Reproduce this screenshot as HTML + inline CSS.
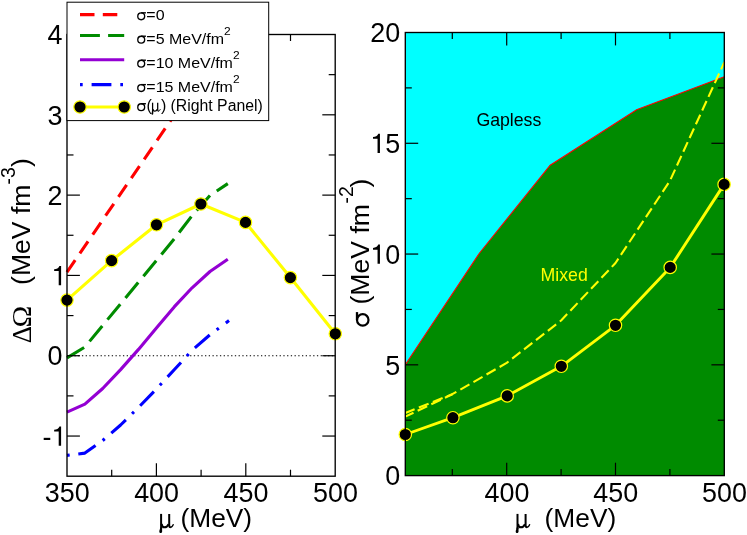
<!DOCTYPE html>
<html><head><meta charset="utf-8"><title>chart</title>
<style>html,body{margin:0;padding:0;background:#fff;}svg{display:block;will-change:transform;}text{fill:#000;}</style>
</head><body>
<svg width="747" height="535" viewBox="0 0 747 535">
<rect x="0" y="0" width="747" height="535" fill="#fff"/>
<g id="left">
<line x1="67.0" y1="355.74" x2="335.2" y2="355.74" stroke="#000" stroke-width="1.2" stroke-dasharray="1.3 2.43"/>
<polyline points="67.00,272.20 227.80,36.90" fill="none" stroke="#ff0000" stroke-width="3.1" stroke-dasharray="14.5 8.3" stroke-linejoin="round" />
<polyline points="67.00,357.80 84.90,347.00 102.70,325.40 120.60,303.80 138.50,282.10 156.40,260.50 174.20,238.90 192.10,215.60 210.00,195.40 227.80,183.60" fill="none" stroke="#008b00" stroke-width="3.1" stroke-dasharray="20 8.2" stroke-linejoin="round" />
<polyline points="67.00,412.10 84.90,404.20 102.70,388.50 120.60,369.60 138.50,349.40 156.40,328.00 174.20,306.90 192.10,287.80 210.00,271.50 227.80,259.30" fill="none" stroke="#9400d3" stroke-width="3.1" stroke-linejoin="round" />
<polyline points="67.00,455.40 84.90,453.10 102.70,440.50 120.60,425.00 138.50,407.40 156.40,389.00 174.20,369.80 192.10,350.30 210.00,334.70 227.80,321.50 229.00,320.60" fill="none" stroke="#0000ff" stroke-width="3.1" stroke-dasharray="2.7 8.7 19.7 8.7" stroke-linejoin="round" />
<polyline points="67.00,300.10 111.60,260.60 156.50,224.80 200.90,204.00 245.50,222.40 290.40,277.60 335.30,333.80" fill="none" stroke="#ffff00" stroke-width="3.1" stroke-linejoin="round" />
<circle cx="67" cy="300.1" r="6.2" fill="#000" stroke="#ffff00" stroke-width="1.2"/>
<circle cx="111.6" cy="260.6" r="6.2" fill="#000" stroke="#ffff00" stroke-width="1.2"/>
<circle cx="156.5" cy="224.8" r="6.2" fill="#000" stroke="#ffff00" stroke-width="1.2"/>
<circle cx="200.9" cy="204.0" r="6.2" fill="#000" stroke="#ffff00" stroke-width="1.2"/>
<circle cx="245.5" cy="222.4" r="6.2" fill="#000" stroke="#ffff00" stroke-width="1.2"/>
<circle cx="290.4" cy="277.6" r="6.2" fill="#000" stroke="#ffff00" stroke-width="1.2"/>
<circle cx="335.3" cy="333.8" r="6.2" fill="#000" stroke="#ffff00" stroke-width="1.2"/>
<rect x="67.0" y="34.5" width="268.20" height="441.70" fill="none" stroke="#000" stroke-width="1.35"/>
<line x1="111.70" y1="476.20" x2="111.70" y2="469.70" stroke="#000" stroke-width="1.2"/>
<line x1="111.70" y1="34.50" x2="111.70" y2="41.00" stroke="#000" stroke-width="1.2"/>
<line x1="156.40" y1="476.20" x2="156.40" y2="463.30" stroke="#000" stroke-width="1.2"/>
<line x1="156.40" y1="34.50" x2="156.40" y2="47.40" stroke="#000" stroke-width="1.2"/>
<line x1="201.10" y1="476.20" x2="201.10" y2="469.70" stroke="#000" stroke-width="1.2"/>
<line x1="201.10" y1="34.50" x2="201.10" y2="41.00" stroke="#000" stroke-width="1.2"/>
<line x1="245.80" y1="476.20" x2="245.80" y2="463.30" stroke="#000" stroke-width="1.2"/>
<line x1="245.80" y1="34.50" x2="245.80" y2="47.40" stroke="#000" stroke-width="1.2"/>
<line x1="290.50" y1="476.20" x2="290.50" y2="469.70" stroke="#000" stroke-width="1.2"/>
<line x1="290.50" y1="34.50" x2="290.50" y2="41.00" stroke="#000" stroke-width="1.2"/>
<line x1="67.00" y1="436.05" x2="79.90" y2="436.05" stroke="#000" stroke-width="1.2"/>
<line x1="335.20" y1="436.05" x2="322.30" y2="436.05" stroke="#000" stroke-width="1.2"/>
<line x1="67.00" y1="395.89" x2="73.50" y2="395.89" stroke="#000" stroke-width="1.2"/>
<line x1="335.20" y1="395.89" x2="328.70" y2="395.89" stroke="#000" stroke-width="1.2"/>
<line x1="67.00" y1="355.74" x2="79.90" y2="355.74" stroke="#000" stroke-width="1.2"/>
<line x1="335.20" y1="355.74" x2="322.30" y2="355.74" stroke="#000" stroke-width="1.2"/>
<line x1="67.00" y1="315.58" x2="73.50" y2="315.58" stroke="#000" stroke-width="1.2"/>
<line x1="335.20" y1="315.58" x2="328.70" y2="315.58" stroke="#000" stroke-width="1.2"/>
<line x1="67.00" y1="275.43" x2="79.90" y2="275.43" stroke="#000" stroke-width="1.2"/>
<line x1="335.20" y1="275.43" x2="322.30" y2="275.43" stroke="#000" stroke-width="1.2"/>
<line x1="67.00" y1="235.27" x2="73.50" y2="235.27" stroke="#000" stroke-width="1.2"/>
<line x1="335.20" y1="235.27" x2="328.70" y2="235.27" stroke="#000" stroke-width="1.2"/>
<line x1="67.00" y1="195.12" x2="79.90" y2="195.12" stroke="#000" stroke-width="1.2"/>
<line x1="335.20" y1="195.12" x2="322.30" y2="195.12" stroke="#000" stroke-width="1.2"/>
<line x1="67.00" y1="154.96" x2="73.50" y2="154.96" stroke="#000" stroke-width="1.2"/>
<line x1="335.20" y1="154.96" x2="328.70" y2="154.96" stroke="#000" stroke-width="1.2"/>
<line x1="67.00" y1="114.81" x2="79.90" y2="114.81" stroke="#000" stroke-width="1.2"/>
<line x1="335.20" y1="114.81" x2="322.30" y2="114.81" stroke="#000" stroke-width="1.2"/>
<line x1="67.00" y1="74.65" x2="73.50" y2="74.65" stroke="#000" stroke-width="1.2"/>
<line x1="335.20" y1="74.65" x2="328.70" y2="74.65" stroke="#000" stroke-width="1.2"/>
<text transform="translate(44.77,502.10) scale(1,1.05)" style='font-family:"Liberation Sans",sans-serif;font-size:26.9px'>3</text>
<text transform="translate(59.72,502.10) scale(1,1.05)" style='font-family:"Liberation Sans",sans-serif;font-size:26.9px'>5</text>
<text transform="translate(74.68,502.10) scale(1,1.05)" style='font-family:"Liberation Sans",sans-serif;font-size:26.9px'>0</text>
<text transform="translate(134.17,502.10) scale(1,1.05)" style='font-family:"Liberation Sans",sans-serif;font-size:26.9px'>4</text>
<text transform="translate(149.12,502.10) scale(1,1.05)" style='font-family:"Liberation Sans",sans-serif;font-size:26.9px'>0</text>
<text transform="translate(164.08,502.10) scale(1,1.05)" style='font-family:"Liberation Sans",sans-serif;font-size:26.9px'>0</text>
<text transform="translate(223.57,502.10) scale(1,1.05)" style='font-family:"Liberation Sans",sans-serif;font-size:26.9px'>4</text>
<text transform="translate(238.52,502.10) scale(1,1.05)" style='font-family:"Liberation Sans",sans-serif;font-size:26.9px'>5</text>
<text transform="translate(253.48,502.10) scale(1,1.05)" style='font-family:"Liberation Sans",sans-serif;font-size:26.9px'>0</text>
<text transform="translate(312.97,502.10) scale(1,1.05)" style='font-family:"Liberation Sans",sans-serif;font-size:26.9px'>5</text>
<text transform="translate(327.92,502.10) scale(1,1.05)" style='font-family:"Liberation Sans",sans-serif;font-size:26.9px'>0</text>
<text transform="translate(342.88,502.10) scale(1,1.05)" style='font-family:"Liberation Sans",sans-serif;font-size:26.9px'>0</text>
<text transform="translate(42.49,445.75) scale(1,1.05)" style='font-family:"Liberation Sans",sans-serif;font-size:26.9px'>-</text>
<path d="M61.10,445.75 L58.71,445.75 L58.71,431.62 L54.16,431.62 L54.16,429.87 C56.69,429.65 58.49,428.74 59.43,426.54 L61.10,426.54 Z" fill="#000"/>
<text transform="translate(47.54,365.44) scale(1,1.05)" style='font-family:"Liberation Sans",sans-serif;font-size:26.9px'>0</text>
<path d="M61.10,285.13 L58.71,285.13 L58.71,271.00 L54.16,271.00 L54.16,269.25 C56.69,269.03 58.49,268.12 59.43,265.92 L61.10,265.92 Z" fill="#000"/>
<text transform="translate(47.54,204.82) scale(1,1.05)" style='font-family:"Liberation Sans",sans-serif;font-size:26.9px'>2</text>
<text transform="translate(47.54,124.51) scale(1,1.05)" style='font-family:"Liberation Sans",sans-serif;font-size:26.9px'>3</text>
<text transform="translate(47.54,44.20) scale(1,1.05)" style='font-family:"Liberation Sans",sans-serif;font-size:26.9px'>4</text>
<g transform="translate(150,505) scale(1.0)" fill="none" stroke="#000" stroke-linecap="butt">
<path d="M11.1,8.9 L11.1,24.2" stroke-width="2.0"/>
<path d="M10.1,22.5 C10.1,24.3 9.3,25.3 9.3,26.4 C9.3,27.4 10.0,27.95 10.75,27.95 C11.6,27.95 12.15,27.3 12.15,26.4 C12.15,25.2 12.1,24.2 12.1,22.5 Z" fill="#000" stroke="none"/>
<path d="M11.6,18.8 C11.9,21.6 13.3,22.3 14.6,22.3 C16.3,22.3 17.6,21.2 18.6,19.2" stroke-width="2.1"/>
<path d="M19.2,8.9 L19.2,20.3 C19.2,21.7 19.8,22.2 20.6,22.2" stroke-width="2.0"/>
<path d="M20.3,22.25 C21.7,22.3 22.7,21.2 23.2,19.6" stroke-width="1.4" stroke-linecap="round"/>
</g>
<text x="180.5" y="527.2" style='font-family:"Liberation Sans",sans-serif;font-size:26.3px'>(MeV)</text>
<text transform="translate(30.5,343.2) rotate(-90) scale(1,1)" style='font-family:"Liberation Serif",serif;font-size:27px'>Δ</text>
<text transform="translate(30.5,327.6) rotate(-90) scale(1.09,1)" style='font-family:"Liberation Serif",serif;font-size:27px'>Ω</text>
<text transform="translate(30.4,284.95) rotate(-90) scale(1,1)" style='font-family:"Liberation Sans",sans-serif;font-size:26.6px'>(MeV fm</text>
<text transform="translate(14.7,184.5) rotate(-90) scale(1,1.05)" style='font-family:"Liberation Sans",sans-serif;font-size:19.5px'>-3</text>
<text transform="translate(30.4,167.0) rotate(-90) scale(1,1)" style='font-family:"Liberation Sans",sans-serif;font-size:26.6px'>)</text>
<rect x="67" y="2.2" width="201.7" height="118.4" fill="#fff" stroke="#000" stroke-width="1.0"/>
<line x1="80" y1="14.6" x2="117.5" y2="14.6" stroke="#ff0000" stroke-width="3.1" stroke-dasharray="14.5 8.3"/>
<line x1="80" y1="35.5" x2="124.2" y2="35.5" stroke="#008b00" stroke-width="3.1" stroke-dasharray="19.9 8.2"/>
<line x1="80" y1="59.7" x2="124.2" y2="59.7" stroke="#9400d3" stroke-width="3.1"/>
<line x1="80" y1="84.6" x2="123" y2="84.6" stroke="#0000ff" stroke-width="3.1" stroke-dasharray="2.7 8.9 19.8 8.9"/>
<line x1="80" y1="107" x2="124.2" y2="107" stroke="#ffff00" stroke-width="3.1"/>
<circle cx="80" cy="107" r="6.2" fill="#000" stroke="#ffff00" stroke-width="1.2"/>
<circle cx="124.2" cy="107" r="6.2" fill="#000" stroke="#ffff00" stroke-width="1.2"/>
<g transform="translate(137.1,20.2) scale(0.6)" fill="none" stroke="#000">
<ellipse cx="6.85" cy="-6.55" rx="5.75" ry="5.75" stroke-width="2.2"/>
<path d="M6.6,-12.3 L14.7,-12.3" stroke-width="2.3"/>
</g>
<text transform="translate(146.3,20.2) scale(1,0.96)" style='font-family:"Liberation Sans",sans-serif;font-size:16px'>=0</text>
<g transform="translate(137.1,43.6) scale(0.6)" fill="none" stroke="#000">
<ellipse cx="6.85" cy="-6.55" rx="5.75" ry="5.75" stroke-width="2.2"/>
<path d="M6.6,-12.3 L14.7,-12.3" stroke-width="2.3"/>
</g>
<text transform="translate(146.3,43.6) scale(1,0.96)" style='font-family:"Liberation Sans",sans-serif;font-size:16px'>=5 MeV/fm<tspan dy="-9" style="font-size:12px">2</tspan></text>
<g transform="translate(137.1,67.6) scale(0.6)" fill="none" stroke="#000">
<ellipse cx="6.85" cy="-6.55" rx="5.75" ry="5.75" stroke-width="2.2"/>
<path d="M6.6,-12.3 L14.7,-12.3" stroke-width="2.3"/>
</g>
<text transform="translate(146.3,67.6) scale(1,0.96)" style='font-family:"Liberation Sans",sans-serif;font-size:16px'>=10 MeV/fm<tspan dy="-9" style="font-size:12px">2</tspan></text>
<g transform="translate(137.1,92.0) scale(0.6)" fill="none" stroke="#000">
<ellipse cx="6.85" cy="-6.55" rx="5.75" ry="5.75" stroke-width="2.2"/>
<path d="M6.6,-12.3 L14.7,-12.3" stroke-width="2.3"/>
</g>
<text transform="translate(146.3,92.0) scale(1,0.96)" style='font-family:"Liberation Sans",sans-serif;font-size:16px'>=15 MeV/fm<tspan dy="-9" style="font-size:12px">2</tspan></text>
<g transform="translate(137.1,111.1) scale(0.6)" fill="none" stroke="#000">
<ellipse cx="6.85" cy="-6.55" rx="5.75" ry="5.75" stroke-width="2.2"/>
<path d="M6.6,-12.3 L14.7,-12.3" stroke-width="2.3"/>
</g>
<text x="146.5" y="111.1" style='font-family:"Liberation Sans",sans-serif;font-size:16px'>(</text>
<g transform="translate(145.6,97.11399999999999) scale(0.63)" fill="none" stroke="#000" stroke-linecap="butt">
<path d="M11.1,8.9 L11.1,24.2" stroke-width="2.0"/>
<path d="M10.1,22.5 C10.1,24.3 9.3,25.3 9.3,26.4 C9.3,27.4 10.0,27.95 10.75,27.95 C11.6,27.95 12.15,27.3 12.15,26.4 C12.15,25.2 12.1,24.2 12.1,22.5 Z" fill="#000" stroke="none"/>
<path d="M11.6,18.8 C11.9,21.6 13.3,22.3 14.6,22.3 C16.3,22.3 17.6,21.2 18.6,19.2" stroke-width="2.1"/>
<path d="M19.2,8.9 L19.2,20.3 C19.2,21.7 19.8,22.2 20.6,22.2" stroke-width="2.0"/>
<path d="M20.3,22.25 C21.7,22.3 22.7,21.2 23.2,19.6" stroke-width="1.4" stroke-linecap="round"/>
</g>
<text x="161.1" y="111.1" style='font-family:"Liberation Sans",sans-serif;font-size:16px'>)</text>
<text x="170.6" y="111.1" style='font-family:"Liberation Sans",sans-serif;font-size:15.8px'>(Right Panel)</text>
</g>
<g id="right">
<rect x="405.3" y="32.5" width="319.00" height="443.10" fill="#00ffff"/>
<polygon points="405.30,364.70 479.20,253.50 550.20,165.20 636.60,109.70 724.30,76.80 724.3,475.6 405.3,475.6" fill="#008b00"/>
<polyline points="405.30,364.70 479.20,253.50 550.20,165.20 636.60,109.70 724.30,76.80" fill="none" stroke="#ff0000" stroke-width="1.15"/>
<polyline points="405.30,413.00 452.30,394.20 506.70,362.90 561.10,320.50 615.50,263.00 669.90,180.90 724.30,62.30" fill="none" stroke="#ffff00" stroke-width="2.1" stroke-dasharray="10.5 4.6" stroke-linejoin="round" stroke-dashoffset="0.5"/>
<polyline points="405.30,416.60 452.30,394.20" fill="none" stroke="#ffff00" stroke-width="2.1" stroke-dasharray="10.5 4.6" stroke-linejoin="round" stroke-dashoffset="1.4"/>
<polyline points="405.30,434.50 452.90,417.70 507.20,395.90 561.30,366.30 615.50,325.30 670.20,267.40 724.10,184.40" fill="none" stroke="#ffff00" stroke-width="2.9" stroke-linejoin="round" />
<circle cx="405.3" cy="434.5" r="6.2" fill="#000" stroke="#ffff00" stroke-width="1.2"/>
<circle cx="452.9" cy="417.7" r="6.2" fill="#000" stroke="#ffff00" stroke-width="1.2"/>
<circle cx="507.2" cy="395.9" r="6.2" fill="#000" stroke="#ffff00" stroke-width="1.2"/>
<circle cx="561.3" cy="366.3" r="6.2" fill="#000" stroke="#ffff00" stroke-width="1.2"/>
<circle cx="615.5" cy="325.3" r="6.2" fill="#000" stroke="#ffff00" stroke-width="1.2"/>
<circle cx="670.2" cy="267.4" r="6.2" fill="#000" stroke="#ffff00" stroke-width="1.2"/>
<circle cx="724.1" cy="184.4" r="6.2" fill="#000" stroke="#ffff00" stroke-width="1.2"/>
<rect x="405.3" y="32.5" width="319.00" height="443.10" fill="none" stroke="#000" stroke-width="1.35"/>
<line x1="452.30" y1="475.60" x2="452.30" y2="469.10" stroke="#000" stroke-width="1.2"/>
<line x1="452.30" y1="32.50" x2="452.30" y2="39.00" stroke="#000" stroke-width="1.2"/>
<line x1="506.70" y1="475.60" x2="506.70" y2="462.70" stroke="#000" stroke-width="1.2"/>
<line x1="506.70" y1="32.50" x2="506.70" y2="45.40" stroke="#000" stroke-width="1.2"/>
<line x1="561.10" y1="475.60" x2="561.10" y2="469.10" stroke="#000" stroke-width="1.2"/>
<line x1="561.10" y1="32.50" x2="561.10" y2="39.00" stroke="#000" stroke-width="1.2"/>
<line x1="615.50" y1="475.60" x2="615.50" y2="462.70" stroke="#000" stroke-width="1.2"/>
<line x1="615.50" y1="32.50" x2="615.50" y2="45.40" stroke="#000" stroke-width="1.2"/>
<line x1="669.90" y1="475.60" x2="669.90" y2="469.10" stroke="#000" stroke-width="1.2"/>
<line x1="669.90" y1="32.50" x2="669.90" y2="39.00" stroke="#000" stroke-width="1.2"/>
<line x1="405.30" y1="420.21" x2="411.80" y2="420.21" stroke="#000" stroke-width="1.2"/>
<line x1="724.30" y1="420.21" x2="717.80" y2="420.21" stroke="#000" stroke-width="1.2"/>
<line x1="405.30" y1="364.83" x2="418.20" y2="364.83" stroke="#000" stroke-width="1.2"/>
<line x1="724.30" y1="364.83" x2="711.40" y2="364.83" stroke="#000" stroke-width="1.2"/>
<line x1="405.30" y1="309.44" x2="411.80" y2="309.44" stroke="#000" stroke-width="1.2"/>
<line x1="724.30" y1="309.44" x2="717.80" y2="309.44" stroke="#000" stroke-width="1.2"/>
<line x1="405.30" y1="254.05" x2="418.20" y2="254.05" stroke="#000" stroke-width="1.2"/>
<line x1="724.30" y1="254.05" x2="711.40" y2="254.05" stroke="#000" stroke-width="1.2"/>
<line x1="405.30" y1="198.66" x2="411.80" y2="198.66" stroke="#000" stroke-width="1.2"/>
<line x1="724.30" y1="198.66" x2="717.80" y2="198.66" stroke="#000" stroke-width="1.2"/>
<line x1="405.30" y1="143.28" x2="418.20" y2="143.28" stroke="#000" stroke-width="1.2"/>
<line x1="724.30" y1="143.28" x2="711.40" y2="143.28" stroke="#000" stroke-width="1.2"/>
<line x1="405.30" y1="87.89" x2="411.80" y2="87.89" stroke="#000" stroke-width="1.2"/>
<line x1="724.30" y1="87.89" x2="717.80" y2="87.89" stroke="#000" stroke-width="1.2"/>
<text transform="translate(484.47,502.10) scale(1,1.05)" style='font-family:"Liberation Sans",sans-serif;font-size:26.9px'>4</text>
<text transform="translate(499.42,502.10) scale(1,1.05)" style='font-family:"Liberation Sans",sans-serif;font-size:26.9px'>0</text>
<text transform="translate(514.38,502.10) scale(1,1.05)" style='font-family:"Liberation Sans",sans-serif;font-size:26.9px'>0</text>
<text transform="translate(593.27,502.10) scale(1,1.05)" style='font-family:"Liberation Sans",sans-serif;font-size:26.9px'>4</text>
<text transform="translate(608.22,502.10) scale(1,1.05)" style='font-family:"Liberation Sans",sans-serif;font-size:26.9px'>5</text>
<text transform="translate(623.18,502.10) scale(1,1.05)" style='font-family:"Liberation Sans",sans-serif;font-size:26.9px'>0</text>
<text transform="translate(702.07,502.10) scale(1,1.05)" style='font-family:"Liberation Sans",sans-serif;font-size:26.9px'>5</text>
<text transform="translate(717.02,502.10) scale(1,1.05)" style='font-family:"Liberation Sans",sans-serif;font-size:26.9px'>0</text>
<text transform="translate(731.98,502.10) scale(1,1.05)" style='font-family:"Liberation Sans",sans-serif;font-size:26.9px'>0</text>
<text transform="translate(385.24,485.30) scale(1,1.05)" style='font-family:"Liberation Sans",sans-serif;font-size:26.9px'>0</text>
<text transform="translate(385.24,374.53) scale(1,1.05)" style='font-family:"Liberation Sans",sans-serif;font-size:26.9px'>5</text>
<path d="M379.94,263.75 L377.55,263.75 L377.55,249.63 L373.00,249.63 L373.00,247.88 C375.53,247.65 377.33,246.75 378.28,244.54 L379.94,244.54 Z" fill="#000"/>
<text transform="translate(385.24,263.75) scale(1,1.05)" style='font-family:"Liberation Sans",sans-serif;font-size:26.9px'>0</text>
<path d="M379.94,152.98 L377.55,152.98 L377.55,138.85 L373.00,138.85 L373.00,137.10 C375.53,136.88 377.33,135.97 378.28,133.77 L379.94,133.77 Z" fill="#000"/>
<text transform="translate(385.24,152.98) scale(1,1.05)" style='font-family:"Liberation Sans",sans-serif;font-size:26.9px'>5</text>
<text transform="translate(370.29,42.20) scale(1,1.05)" style='font-family:"Liberation Sans",sans-serif;font-size:26.9px'>2</text>
<text transform="translate(385.24,42.20) scale(1,1.05)" style='font-family:"Liberation Sans",sans-serif;font-size:26.9px'>0</text>
<g transform="translate(506.4,505) scale(1.0)" fill="none" stroke="#000" stroke-linecap="butt">
<path d="M11.1,8.9 L11.1,24.2" stroke-width="2.0"/>
<path d="M10.1,22.5 C10.1,24.3 9.3,25.3 9.3,26.4 C9.3,27.4 10.0,27.95 10.75,27.95 C11.6,27.95 12.15,27.3 12.15,26.4 C12.15,25.2 12.1,24.2 12.1,22.5 Z" fill="#000" stroke="none"/>
<path d="M11.6,18.8 C11.9,21.6 13.3,22.3 14.6,22.3 C16.3,22.3 17.6,21.2 18.6,19.2" stroke-width="2.1"/>
<path d="M19.2,8.9 L19.2,20.3 C19.2,21.7 19.8,22.2 20.6,22.2" stroke-width="2.0"/>
<path d="M20.3,22.25 C21.7,22.3 22.7,21.2 23.2,19.6" stroke-width="1.4" stroke-linecap="round"/>
</g>
<text x="544.6" y="527.2" style='font-family:"Liberation Sans",sans-serif;font-size:26.3px'>(MeV)</text>
<g transform="translate(369.3,326.8) rotate(-90) scale(1.0)" fill="none" stroke="#000">
<ellipse cx="6.85" cy="-6.55" rx="5.75" ry="5.75" stroke-width="2.2"/>
<path d="M6.6,-12.3 L14.7,-12.3" stroke-width="2.3"/>
</g>
<text transform="translate(369.4,304.55) rotate(-90) scale(1,1)" style='font-family:"Liberation Sans",sans-serif;font-size:26.6px'>(MeV fm</text>
<text transform="translate(353.1,203.6) rotate(-90) scale(1,1.05)" style='font-family:"Liberation Sans",sans-serif;font-size:19.5px'>-2</text>
<text transform="translate(369.4,187.4) rotate(-90) scale(1,1)" style='font-family:"Liberation Sans",sans-serif;font-size:26.6px'>)</text>
<text x="476.4" y="125.8" style='font-family:"Liberation Sans",sans-serif;font-size:17.7px'>Gapless</text>
<text x="540.6" y="280.8" style='font-family:"Liberation Sans",sans-serif;font-size:17.7px;fill:#ffff00'>Mixed</text>
</g>
</svg></body></html>
